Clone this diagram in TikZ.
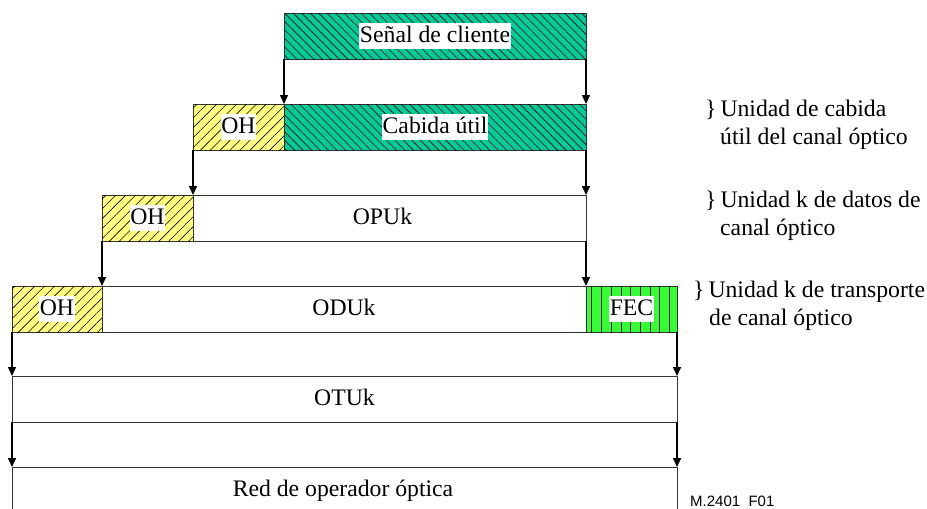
\documentclass[tikz,border=0pt]{standalone}
\usepackage{fontspec}
\setmainfont{Liberation Serif}
\newfontfamily\arialfont{Liberation Sans}
\usetikzlibrary{arrows.meta,patterns.meta}
\definecolor{cgreen}{HTML}{00CC99}
\definecolor{cyellow}{HTML}{FFFF80}
\definecolor{cfec}{HTML}{33FF33}
\newcommand\bigtxt{\fontsize{23.7}{28}\selectfont}
\begin{document}
\begin{tikzpicture}[x=1pt,y=-1pt,
  box/.style={draw=black!80,line width=0.8pt,anchor=north west,inner sep=0pt,outer sep=0pt,minimum height=46pt},
  plain/.style={box,fill=white},
  clientbox/.style={box,fill=cgreen,postaction={pattern={Lines[angle=-45,distance=6pt,line width=0.6pt]},pattern color=black}},
  ohbox/.style={box,minimum width=91pt,fill=cyellow,postaction={pattern={Lines[angle=45,distance=7pt,line width=0.6pt]},pattern color=black}},
  fecbox/.style={box,fill=cfec,postaction={pattern={Lines[angle=90,distance=9.7pt,line width=0.6pt]},pattern color=black}},
  lbl/.style={fill=white,inner xsep=0.5pt,inner ysep=2pt,font=\bigtxt,text height=17pt,text depth=5pt},
  side/.style={anchor=base west,inner sep=0pt,font=\bigtxt},
  arr/.style={-{Triangle[length=9pt,width=8pt]},line width=1.5pt,black}
]
\useasboundingbox (0,0) rectangle (927,509);

% row 1
\node[clientbox,minimum width=302pt] (sig) at (284,13) {};
% row 2
\node[ohbox] (oh1) at (193,104) {};
\node[clientbox,minimum width=302pt] (pay) at (284,104) {};
% row 3
\node[ohbox] (oh2) at (102,195) {};
\node[plain,minimum width=393pt] (opu) at (193,195) {};
% row 4
\node[ohbox,minimum width=90pt] (oh3) at (12,286) {};
\node[plain,minimum width=484pt] (odu) at (102,286) {};
\node[fecbox,minimum width=91pt] (fec) at (586,286) {};
% row 5
\node[plain,minimum width=665pt] (otu) at (12,376) {};
% row 6
\node[plain,minimum width=665pt,minimum height=60pt] (red) at (12,467) {};

% labels
\node[lbl] (sigl) at (sig.center) {Señal de cliente};
\node[lbl] (oh1l) at (oh1.center) {OH};
\node[lbl] (payl) at (pay.center) {Cabida útil};
\node[lbl] (oh2l) at (oh2.center) {OH};
\node[lbl] (opul) at ([xshift=-7pt]opu.center) {OPUk};
\node[lbl] (oh3l) at (oh3.center) {OH};
\node[lbl] (odul) at (odu.center) {ODUk};
\node[lbl] (fecl) at (fec.center) {FEC};
\node[lbl] (otul) at (otu.center) {OTUk};
\node[lbl,fill=none] (redl) at (343,490) {Red de operador óptica};

% arrows
\draw[arr] (sig.south west) -- (pay.north west);
\draw[arr] (sig.south east) -- (pay.north east);
\draw[arr] (oh1.south west) -- (opu.north west);
\draw[arr] (pay.south east) -- (opu.north east);
\draw[arr] (oh2.south west) -- (odu.north west);
\draw[arr] (opu.south east) -- (odu.north east);
\draw[arr] (oh3.south west) -- (otu.north west);
\draw[arr] (fec.south east) -- (otu.north east);
\draw[arr] (otu.south west) -- (red.north west);
\draw[arr] (otu.south east) -- (red.north east);

% side texts
\node[side] (s1a) at (705,116) {\}\,Unidad de cabida};
\node[side] (s1b) at (720,144) {útil del canal óptico};
\node[side] (s2a) at (705,207) {\}\,Unidad k de datos de};
\node[side] (s2b) at (720,235) {canal óptico};
\node[side] (s3a) at (693,297) {\}\,Unidad k de transporte};
\node[side] (s3b) at (709,325) {de canal óptico};
\node[anchor=base west,inner sep=0pt,font=\arialfont\fontsize{15}{18}\selectfont] (fig) at (690,506) {M.2401~~F01};
\end{tikzpicture}
\end{document}
